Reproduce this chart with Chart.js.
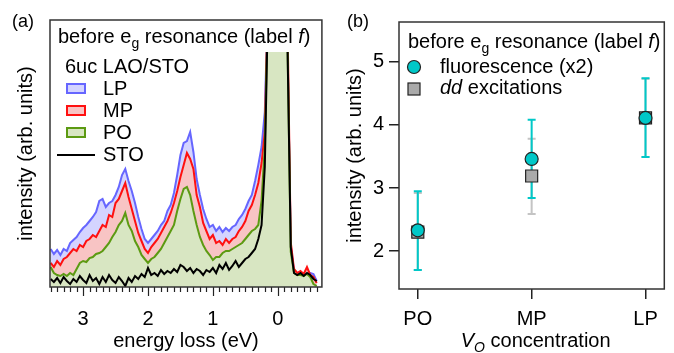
<!DOCTYPE html>
<html>
<head>
<meta charset="utf-8">
<script src="https://cdn.jsdelivr.net/npm/chart.js@4"></script>
<style>
  body { margin: 0; background: #fff; }
  #wrap { position: relative; width: 674px; height: 353px; }
  canvas { position: absolute; top: 0; }
  #chartA { left: 0; }
  #chartB { left: 337px; }
</style>
</head>
<body>
<div id="wrap">
  <canvas id="chartA" width="337" height="353"></canvas>
  <canvas id="chartB" width="337" height="353"></canvas>
</div>
<script>
// panel (a): spectra, energy loss in eV
const energy = [3.5,3.45,3.4,3.35,3.3,3.25,3.2,3.15,3.1,3.05,
  3,2.95,2.9,2.85,2.8,2.75,2.7,2.65,2.6,2.55,
  2.5,2.45,2.4,2.35,2.3,2.25,2.2,2.15,2.1,2.05,
  2,1.95,1.9,1.85,1.8,1.75,1.7,1.65,1.6,1.55,
  1.5,1.45,1.4,1.35,1.3,1.25,1.2,1.15,1.1,1.05,
  1,0.95,0.9,0.85,0.8,0.75,0.7,0.65,0.6,0.55,
  0.5,0.45,0.4,0.35,0.3,0.25,0.2,0.15,0.1,0.05,
  0,-0.05,-0.1,-0.15,-0.2,-0.25,-0.3,-0.35,-0.4,-0.45,
  -0.5,-0.55,-0.6];
const lp = [38,33,37,32,38,36,44,47,50,55,
  59,62,66,70,75,86,88,80,84,86,
  92,100,112,118,106,96,84,70,58,48,
  44,48,52,56,62,66,76,82,94,112,
  132,144,146,155,135,108,92,78,68,60,
  62,56,60,55,59,56,60,62,68,72,
  78,86,92,106,122,140,175,290,700,1000,
  1000,900,600,245,42,16,14,15,13,16,
  14,13,6];
const mp = [24,20,26,22,28,30,34,38,36,42,
  40,46,48,52,50,56,62,60,72,70,
  84,88,96,104,90,78,66,54,46,38,
  34,40,44,48,54,60,66,74,84,96,
  110,122,134,128,118,92,80,64,56,48,
  52,44,46,42,48,44,48,50,56,60,
  66,76,82,92,104,124,155,295,700,1000,
  1000,920,640,265,45,18,14,16,13,20,
  12,10,4];
const po = [20,14,12,11,13,11,14,12,18,24,
  26,25,29,30,33,34,36,40,44,50,
  55,62,66,74,62,56,46,40,32,28,
  24,28,30,34,38,44,50,56,62,76,
  88,98,100,92,76,62,50,42,36,32,
  27,30,30,34,36,36,38,40,42,44,
  48,52,56,58,62,86,140,290,700,1000,
  1000,900,600,245,35,14,12,12,11,13,
  10,3,1];
const sto = [8,5,9,4,10,6,3,8,5,11,
  7,4,12,6,9,3,10,5,12,7,
  4,10,6,1,9,5,11,8,13,10,
  19,12,14,11,17,13,16,14,18,15,
  22,20,16,19,14,18,16,12,17,15,
  19,14,22,18,24,17,21,26,20,24,
  28,30,34,38,48,62,120,285,700,1000,
  1000,900,600,240,40,14,12,14,11,14,
  12,8,6];

// panel (b): intensities vs V_O concentration
const categories = ['PO', 'MP', 'LP'];
const fluor = [2.33, 3.46, 4.11];
const fluorLow = [1.70, 2.84, 3.49];
const fluorHigh = [2.95, 4.08, 4.74];
const dd = [2.30, 3.19, 4.11];
const ddLow = [1.70, 2.59, 3.49];
const ddHigh = [2.92, 3.78, 4.73];

const FONT = '"Liberation Sans", Arial, sans-serif';
Chart.defaults.font.family = FONT;
Chart.defaults.font.size = 20;
Chart.defaults.color = '#000';

const CYAN = 'rgb(0,200,200)';

function pts(vals) {
  return energy.map((e, i) => ({ x: e, y: vals[i] }));
}

// text with sub-scripts / italics
function richText(ctx, parts, x, y) {
  parts.forEach(p => {
    ctx.font = (p.i ? 'italic ' : '') + (p.s || 20) + 'px ' + FONT;
    ctx.fillText(p.t, x, y + (p.dy || 0));
    x += ctx.measureText(p.t).width;
  });
  return x;
}
function richWidth(ctx, parts) {
  let w = 0;
  parts.forEach(p => {
    ctx.font = (p.i ? 'italic ' : '') + (p.s || 20) + 'px ' + FONT;
    w += ctx.measureText(p.t).width;
  });
  return w;
}
const titleParts = [{ t: 'before e' }, { t: 'g', s: 14, dy: 5 }, { t: ' resonance (label ' }, { t: 'f', i: true }, { t: ')' }];

const frame = {
  id: 'frame',
  afterDraw(chart) {
    const a = chart.chartArea, ctx = chart.ctx;
    ctx.save();
    ctx.strokeStyle = '#333';
    ctx.lineWidth = 1.5;
    ctx.strokeRect(a.left, a.top, a.right - a.left, a.bottom - a.top);
    ctx.restore();
  }
};

// minor/major ticks on energy axis
const tickMarks = {
  id: 'tickMarks',
  afterDraw(chart) {
    const s = chart.scales.x, ctx = chart.ctx, b = chart.chartArea.bottom;
    ctx.save();
    ctx.strokeStyle = '#222';
    ctx.lineWidth = 1.2;
    s.ticks.forEach(t => {
      const k = t.value * 10;
      if (Math.abs(k - Math.round(k)) > 1e-6) return;
      const px = Math.round(s.getPixelForValue(t.value)) + 0.5;
      const len = Math.round(k) % 10 === 0 ? 9 : 5;
      ctx.beginPath();
      ctx.moveTo(px, b);
      ctx.lineTo(px, b + len);
      ctx.stroke();
    });
    ctx.restore();
  }
};

const legendA = {
  id: 'legendA',
  afterDatasetsDraw(chart) {
    const a = chart.chartArea, ctx = chart.ctx;
    ctx.save();
    ctx.fillStyle = '#fff';
    ctx.fillRect(a.left, a.top, a.right - a.left, 32);
    ctx.restore();
  },
  afterDraw(chart) {
    const ctx = chart.ctx;
    ctx.save();
    ctx.fillStyle = '#000';
    ctx.textBaseline = 'alphabetic';
    ctx.font = '18px ' + FONT;
    ctx.fillText('(a)', 12, 27);
    richText(ctx, titleParts, 58, 43);
    ctx.font = '20px ' + FONT;
    ctx.fillText('6uc LAO/STO', 65, 73);
    const rows = [
      { name: 'LP', line: '#6666ff', fill: '#d4d4ff' },
      { name: 'MP', line: '#ff1010', fill: '#f8c4c4' },
      { name: 'PO', line: '#5c9a12', fill: '#d8e6c2' }
    ];
    rows.forEach((r, i) => {
      const y = 84 + i * 22;
      ctx.fillStyle = r.fill;
      ctx.fillRect(67, y, 18, 9);
      ctx.strokeStyle = r.line;
      ctx.lineWidth = 2;
      ctx.strokeRect(67, y, 18, 9);
      ctx.fillStyle = '#000';
      ctx.font = '20px ' + FONT;
      ctx.fillText(r.name, 103, y + 11);
    });
    ctx.strokeStyle = '#000';
    ctx.lineWidth = 2;
    ctx.beginPath();
    ctx.moveTo(57, 155);
    ctx.lineTo(95, 155);
    ctx.stroke();
    ctx.fillText('STO', 103, 161);
    ctx.restore();
  }
};

new Chart(document.getElementById('chartA'), {
  type: 'line',
  data: {
    datasets: [
      { label: 'LP', data: pts(lp), borderColor: '#6666ff', backgroundColor: '#d4d4ff', fill: 'origin', order: 3 },
      { label: 'MP', data: pts(mp), borderColor: '#ff1010', backgroundColor: '#f8c4c4', fill: 'origin', order: 2 },
      { label: 'PO', data: pts(po), borderColor: '#5c9a12', backgroundColor: '#d8e6c2', fill: 'origin', order: 1 },
      { label: 'STO', data: pts(sto), borderColor: '#000', fill: false, order: 0 }
    ]
  },
  options: {
    responsive: false,
    animation: false,
    layout: { padding: { top: 20, right: 15, left: 0, bottom: 0 } },
    elements: { point: { radius: 0 }, line: { borderWidth: 2, tension: 0 } },
    plugins: { legend: { display: false }, tooltip: { enabled: false } },
    scales: {
      x: {
        type: 'linear', reverse: true, min: -0.68, max: 3.51,
        afterFit: s => { s.height = 66; },
        grid: { display: false, drawTicks: false },
        border: { display: false },
        ticks: {
          stepSize: 0.1, includeBounds: false, maxTicksLimit: 100, autoSkip: false, maxRotation: 0,
          padding: 20,
          callback: v => Math.abs(v - Math.round(v)) < 1e-6 ? String(Math.round(v)) : ''
        },
        title: { display: true, text: 'energy loss (eV)', padding: { top: 0, bottom: 0 } }
      },
      y: {
        min: 0, max: 267,
        afterFit: s => { s.width = 50; },
        grid: { display: false, drawTicks: false },
        border: { display: false },
        ticks: { display: false },
        title: { display: true, text: 'intensity (arb. units)', padding: { top: 14, bottom: 0 } }
      }
    }
  },
  plugins: [legendA, tickMarks, frame]
});

// error bars for panel (b)
const errorBars = {
  id: 'errorBars',
  beforeDatasetsDraw(chart) {
    const xs = chart.scales.x, ys = chart.scales.y, ctx = chart.ctx;
    const sets = [
      { lo: ddLow, hi: ddHigh, color: '#c4c4c4' },
      { lo: fluorLow, hi: fluorHigh, color: CYAN }
    ];
    ctx.save();
    ctx.lineWidth = 2;
    sets.forEach(set => {
      ctx.strokeStyle = set.color;
      categories.forEach((c, i) => {
        const px = xs.getPixelForValue(i);
        const y1 = ys.getPixelForValue(set.lo[i]);
        const y2 = ys.getPixelForValue(set.hi[i]);
        ctx.beginPath();
        ctx.moveTo(px, y1); ctx.lineTo(px, y2);
        ctx.moveTo(px - 4, y1); ctx.lineTo(px + 4, y1);
        ctx.moveTo(px - 4, y2); ctx.lineTo(px + 4, y2);
        ctx.stroke();
      });
    });
    ctx.restore();
  }
};

const legendB = {
  id: 'legendB',
  afterDraw(chart) {
    const ctx = chart.ctx, a = chart.chartArea;
    ctx.save();
    ctx.fillStyle = '#000';
    ctx.font = '18px ' + FONT;
    ctx.fillText('(b)', 10, 27);
    richText(ctx, titleParts, 71, 48);
    ctx.beginPath();
    ctx.arc(77, 67, 6.5, 0, Math.PI * 2);
    ctx.fillStyle = CYAN;
    ctx.fill();
    ctx.strokeStyle = '#222';
    ctx.lineWidth = 1.2;
    ctx.stroke();
    ctx.fillStyle = '#aaa';
    ctx.fillRect(71, 83, 12, 12);
    ctx.strokeRect(71, 83, 12, 12);
    ctx.fillStyle = '#000';
    ctx.font = '20px ' + FONT;
    ctx.fillText('fluorescence (x2)', 103, 73);
    richText(ctx, [{ t: 'dd', i: true }, { t: ' excitations' }], 103, 94);
    // x axis title with subscript
    const parts = [{ t: 'V', i: true }, { t: 'O', i: true, s: 14, dy: 5 }, { t: ' concentration' }];
    const w = richWidth(ctx, parts);
    richText(ctx, parts, (a.left + a.right) / 2 - w / 2 + 4, 347);
    ctx.restore();
  }
};

new Chart(document.getElementById('chartB'), {
  type: 'scatter',
  data: {
    datasets: [
      {
        label: 'fluorescence (x2)',
        data: fluor.map((v, i) => ({ x: i, y: v })),
        pointStyle: 'circle', pointRadius: 6.5,
        backgroundColor: CYAN, borderColor: '#222', borderWidth: 1.2
      },
      {
        label: 'dd excitations',
        data: dd.map((v, i) => ({ x: i, y: v })),
        pointStyle: 'rect', pointRadius: 8.5,
        backgroundColor: '#aaa', borderColor: '#222', borderWidth: 1.2
      }
    ]
  },
  options: {
    responsive: false,
    animation: false,
    layout: { padding: { top: 22, right: 7, left: 0, bottom: 0 } },
    plugins: { legend: { display: false }, tooltip: { enabled: false } },
    scales: {
      x: {
        type: 'linear', min: -0.165, max: 2.165,
        afterFit: s => { s.height = 64; },
        grid: { drawOnChartArea: false, drawTicks: true, tickLength: 10, color: '#222', lineWidth: 1.5 },
        border: { display: false },
        ticks: { stepSize: 1, includeBounds: false, padding: 8, maxRotation: 0, callback: v => categories[v] }
      },
      y: {
        min: 1.4, max: 5.63,
        afterFit: s => { s.width = 62; },
        grid: { drawOnChartArea: false, drawTicks: true, tickLength: 10, color: '#222', lineWidth: 1.5 },
        border: { display: false },
        ticks: { stepSize: 1, includeBounds: false, padding: 5 },
        title: { display: true, text: 'intensity (arb. units)', padding: { top: 6, bottom: 0 } }
      }
    }
  },
  plugins: [errorBars, legendB, frame]
});
</script>
</body>
</html>
